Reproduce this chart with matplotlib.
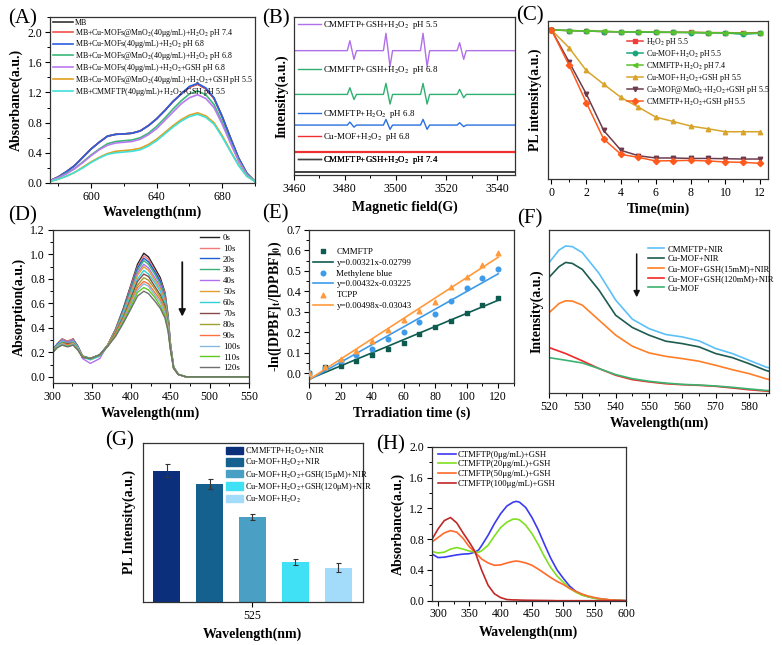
import numpy as np
import matplotlib
matplotlib.use("Agg")
import matplotlib.pyplot as plt
from matplotlib.lines import Line2D
from matplotlib.patches import Patch
from matplotlib.ticker import MultipleLocator

plt.rcParams['font.family'] = ['Liberation Serif', 'DejaVu Serif']
plt.rcParams['mathtext.fontset'] = 'stix'
plt.rcParams['axes.linewidth'] = 0.9

# ---------------- data ----------------
# (A)
a_wl = [575, 580, 585, 590, 595, 600, 605, 610, 615, 620, 625, 630, 635, 640, 645,
        650, 655, 660, 665, 670, 675, 680, 685, 690, 695, 700]
a_labels = ["MB",
            "MB+Cu-MOFs@MnO$_2$(40μg/mL)+H$_2$O$_2$ pH 7.4",
            "MB+Cu-MOFs(40μg/mL)+H$_2$O$_2$ pH 6.8",
            "MB+Cu-MOFs@MnO$_2$(40μg/mL)+H$_2$O$_2$ pH 6.8",
            "MB+Cu-MOFs(40μg/mL)+H$_2$O$_2$+GSH pH 6.8",
            "MB+Cu-MOFs@MnO$_2$(40μg/mL)+H$_2$O$_2$+GSH pH 5.5",
            "MB+CMMFTP(40μg/mL)+H$_2$O$_2$+GSH pH 5.5"]
a_mb = [0.03, 0.08, 0.15, 0.23, 0.34, 0.45, 0.54, 0.62, 0.645, 0.65, 0.66, 0.69, 0.76, 0.85, 0.96,
        1.08, 1.18, 1.27, 1.31, 1.25, 1.12, 0.88, 0.60, 0.33, 0.13, 0.02]
a_mno2_74 = [0.03, 0.08, 0.15, 0.23, 0.34, 0.45, 0.54, 0.62, 0.645, 0.65, 0.66, 0.69, 0.76, 0.85, 0.96,
             1.08, 1.18, 1.27, 1.31, 1.25, 1.12, 0.88, 0.60, 0.33, 0.13, 0.02]
a_mof_68 = [0.03, 0.08, 0.15, 0.23, 0.34, 0.45, 0.54, 0.62, 0.645, 0.65, 0.66, 0.69, 0.76, 0.85, 0.96,
            1.08, 1.18, 1.28, 1.32, 1.26, 1.13, 0.88, 0.60, 0.33, 0.13, 0.02]
a_mno2_68 = [0.03, 0.07, 0.13, 0.19, 0.28, 0.37, 0.45, 0.52, 0.55, 0.56, 0.57, 0.60, 0.66, 0.75, 0.86,
             0.98, 1.09, 1.18, 1.22, 1.17, 1.04, 0.81, 0.55, 0.30, 0.12, 0.02]
a_mof_gsh = [0.03, 0.07, 0.12, 0.19, 0.27, 0.36, 0.44, 0.50, 0.53, 0.54, 0.55, 0.58, 0.64, 0.72, 0.83,
             0.94, 1.05, 1.13, 1.17, 1.12, 1.00, 0.78, 0.53, 0.29, 0.11, 0.02]
a_mno2_gsh = [0.02, 0.05, 0.09, 0.14, 0.21, 0.28, 0.34, 0.39, 0.42, 0.43, 0.44, 0.46, 0.51, 0.58, 0.67,
              0.76, 0.84, 0.90, 0.93, 0.89, 0.80, 0.63, 0.43, 0.24, 0.09, 0.02]
a_cmmftp = [0.02, 0.05, 0.09, 0.14, 0.20, 0.27, 0.33, 0.38, 0.40, 0.41, 0.42, 0.44, 0.49, 0.56, 0.65,
            0.74, 0.82, 0.88, 0.91, 0.87, 0.78, 0.61, 0.42, 0.23, 0.09, 0.02]
a_series = [a_mb, a_mno2_74, a_mof_68, a_mno2_68, a_mof_gsh, a_mno2_gsh, a_cmmftp]
a_colors = ['#333333', '#f0504a', '#2a5fe0', '#3cb878', '#b87af0', '#e0a020', '#40e0d8']

# (B) EPR
b_field = [3460, 3481.0, 3482.0, 3483.6, 3484.6, 3495.2, 3496.2, 3497.8, 3498.8,
           3509.8, 3510.8, 3512.4, 3513.4, 3524.2, 3525.2, 3526.8, 3527.8, 3547]
b_labels = ["CMMFTP+GSH+H$_2$O$_2$  pH 5.5", "CMMFTP+GSH+H$_2$O$_2$  pH 6.8",
            "CMMFTP+H$_2$O$_2$  pH 6.8", "Cu-MOF+H$_2$O$_2$  pH 6.8",
            "CMMFTP+GSH+H$_2$O$_2$  pH 7.4"]
b_base = [78.7, 51.0, 31.6, 14.8, 2.1]
b_amp_55 = [0, 0, 6.3, -5.5, 0, 0, 11, -10, 0, 0, 11, -10, 0, 0, 5, -5.5, 0, 0]
b_amp_68g = [0, 0, 4.2, -3.2, 0, 0, 7, -6.1, 0, 0, 7, -6.1, 0, 0, 3.2, -2.1, 0, 0]
b_amp_68 = [0, 0, 1.9, -1.3, 0, 0, 3.6, -2.7, 0, 0, 3.6, -2.7, 0, 0, 1.5, -1.0, 0, 0]
b_amp_mof = [0] * 18
b_amp_74 = [0] * 18
b_amps = [b_amp_55, b_amp_68g, b_amp_68, b_amp_mof, b_amp_74]
b_colors = ['#b070e8', '#2fb070', '#2a6fe0', '#f03030', '#404040']

# (C)
c_time = list(range(13))
c_labels = ["H$_2$O$_2$ pH 5.5", "Cu-MOF+H$_2$O$_2$ pH 5.5", "CMMFTP+H$_2$O$_2$ pH 7.4",
            "Cu-MOF+H$_2$O$_2$+GSH pH 5.5", "Cu-MOF@MnO$_2$+H$_2$O$_2$+GSH pH 5.5",
            "CMMFTP+H$_2$O$_2$+GSH pH 5.5"]
c_h2o2 = [100, 99.6, 99.3, 98.9, 98.7, 98.7, 98.4, 98.4, 98.4, 98.2, 98.2, 98.0, 98.2]
c_mof = [100, 99.6, 99.3, 98.9, 98.7, 98.7, 98.4, 98.4, 98.2, 98.0, 98.0, 97.1, 97.8]
c_cmm74 = [100, 99.6, 99.3, 99.1, 98.7, 98.7, 98.7, 98.4, 98.4, 98.2, 98.0, 98.0, 97.8]
c_mof_gsh = [100, 88.2, 72.8, 63.6, 54.7, 48.2, 41.5, 38.6, 35.5, 33.7, 31.7, 31.7, 31.7]
c_mno2_gsh = [100, 78.8, 57.1, 32.6, 19.2, 15.6, 14.1, 14.1, 13.8, 13.8, 13.6, 13.4, 13.4]
c_cmm_gsh = [100, 76.6, 51.3, 26.8, 16.5, 14.5, 12.1, 12.3, 12.5, 12.1, 11.4, 11.2, 10.5]
c_series = [c_h2o2, c_mof, c_cmm74, c_mof_gsh, c_mno2_gsh, c_cmm_gsh]
c_colors = ['#f03c3c', '#1aa57a', '#5cc22a', '#d8a42c', '#6e3b4e', '#ff5a1e']
c_markers = ['s', 'o', '<', '^', 'v', 'D']

# (D)
d_wl = [300, 306, 312, 319, 326, 332, 338, 348, 360, 370, 380, 390, 400, 408, 416, 422,
        430, 437, 443, 447, 450, 454, 460, 470, 500, 550]
d_labels = ["0s", "10s", "20s", "30s", "40s", "50s", "60s", "70s", "80s", "90s", "100s", "110s", "120s"]
d_0 = [0.22, 0.27, 0.31, 0.29, 0.31, 0.25, 0.17, 0.15, 0.18, 0.26, 0.39, 0.56, 0.76, 0.92, 1.01, 0.98, 0.89, 0.81, 0.69, 0.50, 0.27, 0.08, 0.02, 0, 0, 0]
d_10 = [0.22, 0.27, 0.31, 0.29, 0.31, 0.25, 0.17, 0.15, 0.18, 0.26, 0.39, 0.55, 0.75, 0.90, 0.99, 0.96, 0.87, 0.79, 0.68, 0.49, 0.27, 0.08, 0.02, 0, 0, 0]
d_20 = [0.22, 0.27, 0.30, 0.28, 0.30, 0.25, 0.17, 0.15, 0.18, 0.26, 0.38, 0.55, 0.73, 0.89, 0.97, 0.94, 0.86, 0.78, 0.66, 0.48, 0.26, 0.08, 0.02, 0, 0, 0]
d_30 = [0.22, 0.26, 0.30, 0.28, 0.30, 0.24, 0.17, 0.15, 0.18, 0.26, 0.38, 0.54, 0.72, 0.87, 0.95, 0.92, 0.84, 0.76, 0.65, 0.48, 0.26, 0.08, 0.02, 0, 0, 0]
d_40 = [0.21, 0.26, 0.30, 0.28, 0.30, 0.24, 0.15, 0.11, 0.15, 0.26, 0.37, 0.53, 0.70, 0.85, 0.92, 0.89, 0.81, 0.74, 0.63, 0.46, 0.26, 0.08, 0.02, 0, 0, 0]
d_50 = [0.21, 0.26, 0.29, 0.27, 0.29, 0.24, 0.17, 0.14, 0.17, 0.26, 0.37, 0.52, 0.69, 0.83, 0.90, 0.87, 0.79, 0.72, 0.62, 0.45, 0.25, 0.08, 0.02, 0, 0, 0]
d_60 = [0.21, 0.26, 0.29, 0.27, 0.29, 0.24, 0.16, 0.14, 0.17, 0.25, 0.36, 0.51, 0.67, 0.80, 0.87, 0.84, 0.77, 0.70, 0.60, 0.44, 0.25, 0.08, 0.02, 0, 0, 0]
d_70 = [0.21, 0.25, 0.28, 0.27, 0.28, 0.23, 0.16, 0.15, 0.18, 0.25, 0.36, 0.49, 0.65, 0.78, 0.84, 0.82, 0.74, 0.67, 0.58, 0.43, 0.24, 0.07, 0.02, 0, 0, 0]
d_80 = [0.21, 0.25, 0.28, 0.26, 0.28, 0.23, 0.16, 0.15, 0.18, 0.25, 0.35, 0.48, 0.63, 0.75, 0.81, 0.79, 0.72, 0.65, 0.56, 0.42, 0.24, 0.07, 0.02, 0, 0, 0]
d_90 = [0.20, 0.25, 0.27, 0.26, 0.27, 0.23, 0.16, 0.15, 0.18, 0.25, 0.35, 0.47, 0.61, 0.73, 0.78, 0.76, 0.69, 0.63, 0.53, 0.40, 0.23, 0.07, 0.02, 0, 0, 0]
d_100 = [0.20, 0.25, 0.27, 0.25, 0.27, 0.23, 0.16, 0.15, 0.18, 0.25, 0.34, 0.46, 0.60, 0.71, 0.76, 0.74, 0.67, 0.61, 0.52, 0.40, 0.23, 0.07, 0.02, 0, 0, 0]
d_110 = [0.20, 0.24, 0.26, 0.25, 0.26, 0.22, 0.16, 0.15, 0.18, 0.25, 0.34, 0.45, 0.58, 0.69, 0.73, 0.71, 0.65, 0.58, 0.50, 0.38, 0.22, 0.07, 0.02, 0, 0, 0]
d_120 = [0.20, 0.24, 0.26, 0.245, 0.26, 0.22, 0.16, 0.15, 0.18, 0.25, 0.33, 0.44, 0.56, 0.66, 0.70, 0.68, 0.62, 0.56, 0.48, 0.37, 0.22, 0.07, 0.02, 0, 0, 0]
d_series = [d_0, d_10, d_20, d_30, d_40, d_50, d_60, d_70, d_80, d_90, d_100, d_110, d_120]
d_colors = ['#222222', '#f47a7a', '#1f5fd0', '#3cb07a', '#b070f0', '#e0a030', '#30d0d8',
            '#8b4a4a', '#a0a030', '#ff7040', '#88b8e0', '#60c820', '#707070']

# (E)
e_time = [0, 10, 20, 30, 40, 50, 60, 70, 80, 90, 100, 110, 120]
e_cmmftp = [0.0, 0.03, 0.037, 0.062, 0.088, 0.117, 0.15, 0.19, 0.225, 0.257, 0.293, 0.334, 0.37]
e_mb = [0.0, 0.025, 0.06, 0.09, 0.12, 0.17, 0.20, 0.25, 0.29, 0.355, 0.415, 0.465, 0.51]
e_tcpp = [0.0, 0.03, 0.07, 0.11, 0.16, 0.21, 0.26, 0.305, 0.35, 0.42, 0.47, 0.53, 0.59]
e_names = ["CMMFTP", "Methylene blue", "TCPP"]
e_slopes = [0.00321, 0.00432, 0.00498]
e_inters = [-0.02799, -0.03225, -0.03043]
e_colors = ['#0e5c50', '#3d9be9', '#ff9a3c']
e_markers = ['s', 'o', '^']

# (F)
f_wl_hi = [520, 523, 525, 527, 530, 535, 540, 545, 550, 555, 560, 565, 570, 575, 580, 585, 586]
f_cmm_nir = [79.9, 87.7, 90.2, 89.8, 86.1, 73.4, 57.0, 45.3, 39.5, 35.9, 34.4, 32.0, 27.3, 24.2, 20.1, 16.0, 15.4]
f_mof_nir = [70.9, 77.5, 80.1, 79.5, 75.8, 63.1, 47.7, 40.2, 35.5, 31.8, 30.3, 28.3, 24.2, 21.7, 18.0, 13.9, 13.3]
f_gsh15 = [49.2, 54.9, 56.6, 56.4, 53.9, 44.7, 35.5, 28.7, 24.6, 22.5, 21.1, 19.5, 17.0, 14.3, 11.9, 8.8, 8.3]
f_wl_lo = [520, 525, 530, 535, 540, 545, 550, 555, 560, 565, 570, 575, 580, 585, 586]
f_gsh120 = [27.9, 24.2, 19.7, 15.0, 10.9, 8.2, 6.8, 5.7, 5.1, 4.7, 4.1, 3.1, 2.0, 1.2, 1.0]
f_mof = [21.7, 20.1, 18.4, 15.0, 11.3, 8.8, 7.2, 6.1, 5.3, 4.9, 4.3, 3.5, 2.5, 1.6, 1.5]
f_labels = ["CMMFTP+NIR", "Cu-MOF+NIR", "Cu-MOF+GSH(15mM)+NIR", "Cu-MOF+GSH(120mM)+NIR", "Cu-MOF"]
f_colors = ['#5cc0f8', '#1d5c4f', '#ff7f27', '#f02828', '#3cb371']

# (G)
g_labels = ["CMMFTP+H$_2$O$_2$+NIR", "Cu-MOF+H$_2$O$_2$+NIR", "Cu-MOF+H$_2$O$_2$+GSH(15μM)+NIR",
            "Cu-MOF+H$_2$O$_2$+GSH(120μM)+NIR", "Cu-MOF+H$_2$O$_2$"]
g_values = [8.26, 7.42, 5.35, 2.52, 2.16]
g_errors = [0.39, 0.31, 0.20, 0.20, 0.27]
g_colors = ['#0b2f7a', '#14608f', '#4aa0c4', '#40e0f5', '#a3dcfa']
g_tick = "525"

# (H)
h_labels = ["CTMFTP(0μg/mL)+GSH", "CTMFTP(20μg/mL)+GSH", "CTMFTP(50μg/mL)+GSH", "CTMFTP(100μg/mL)+GSH"]
h_wl = [290, 300, 310, 320, 330, 340, 350, 359, 365, 370, 380, 390, 400, 410, 420, 425, 430, 440,
        450, 460, 470, 480, 490, 500, 510, 520, 530, 540, 550, 560, 575, 600]
h_0 = [0.61, 0.56, 0.565, 0.58, 0.595, 0.605, 0.61, 0.63, 0.66, 0.72, 0.85, 1.00, 1.13, 1.23, 1.28, 1.29, 1.28, 1.21,
       1.08, 0.92, 0.73, 0.55, 0.40, 0.29, 0.19, 0.12, 0.08, 0.05, 0.035, 0.02, 0.01, 0.0]
h_20 = [0.64, 0.62, 0.63, 0.67, 0.69, 0.67, 0.645, 0.63, 0.63, 0.65, 0.72, 0.84, 0.95, 1.02, 1.06, 1.06, 1.05, 0.98,
        0.87, 0.73, 0.57, 0.43, 0.32, 0.24, 0.16, 0.11, 0.07, 0.05, 0.03, 0.02, 0.01, 0.0]
h_50 = [0.76, 0.82, 0.88, 0.91, 0.89, 0.81, 0.70, 0.63, 0.58, 0.54, 0.49, 0.46, 0.465, 0.49, 0.51, 0.515, 0.51, 0.49,
        0.46, 0.41, 0.355, 0.30, 0.25, 0.21, 0.16, 0.12, 0.085, 0.06, 0.04, 0.025, 0.01, 0.0]
h_100 = [0.79, 0.93, 1.04, 1.08, 1.01, 0.88, 0.76, 0.64, 0.50, 0.39, 0.20, 0.09, 0.04, 0.015, 0.01, 0.01, 0.008, 0.006,
         0.005, 0.004, 0.003, 0.002, 0.0, 0.0, 0.0, 0.0, 0.0, 0.0, 0.0, 0.0, 0.0, 0.0]
h_series = [h_0, h_20, h_50, h_100]
h_colors = ['#3a3af0', '#7ee020', '#ff6a2a', '#c02828']

# ---------------- figure ----------------
W, H = 782, 645
fig = plt.figure(figsize=(W / 100, H / 100), dpi=100)


def mk(l, t, r, b):
    return fig.add_axes([l / W, 1 - b / H, (r - l) / W, (b - t) / H])


LBL = dict(fontsize=10, fontweight='bold')
TICKFS = 8.5
LEGFS = 6.0


def style(ax, yticks=True):
    ax.tick_params(which='major', direction='out', length=3.5, width=0.8, labelsize=TICKFS,
                   top=False, right=False, pad=2)
    ax.tick_params(which='minor', direction='out', length=2, width=0.7, top=False, right=False)
    if not yticks:
        ax.set_yticks([])
        ax.yaxis.set_minor_locator(plt.NullLocator())
    for s in ax.spines.values():
        s.set_color('#333333')


def panel(x, y, s):
    fig.text(x / W, 1 - y / H, s, fontsize=15, ha='left', va='center')


# (A)
ax = mk(50, 17, 255, 183)
for ys, c, lab in zip(a_series, a_colors, a_labels):
    ax.plot(a_wl, ys, color=c, lw=1.2, label=lab)
ax.set_xlim(575, 700)
ax.set_ylim(0, 2.2)
ax.xaxis.set_major_locator(MultipleLocator(40))
ax.xaxis.set_minor_locator(MultipleLocator(20))
ax.yaxis.set_major_locator(MultipleLocator(0.4))
ax.yaxis.set_minor_locator(MultipleLocator(0.2))
ax.yaxis.set_major_formatter(matplotlib.ticker.FormatStrFormatter('%.1f'))
style(ax)
ax.set_xlabel("Wavelength(nm)", labelpad=2, **LBL)
ax.set_ylabel("Absorbance(a.u.)", labelpad=3, **LBL)
ax.legend(loc='upper left', bbox_to_anchor=(0.015, 0.99), frameon=False, fontsize=5.7,
          handlelength=2.5, handletextpad=0.3, labelspacing=-0.02, borderpad=0, borderaxespad=0)
panel(8, 19, "(A)")

# (B)
ax = mk(294, 17, 515, 175)
for base, amp, c, lw in zip(b_base, b_amps, b_colors, [1.0, 1.0, 1.0, 1.6, 1.4]):
    ys = [base + a for a in amp]
    ax.plot(b_field, ys, color=c, lw=lw)
ax.set_xlim(3460, 3547)
ax.set_ylim(0, 100)
ax.xaxis.set_major_locator(MultipleLocator(20))
ax.xaxis.set_minor_locator(MultipleLocator(10))
style(ax, yticks=False)
ax.set_xlabel("Magnetic field(G)", labelpad=4, **LBL)
ax.set_ylabel("Intensity(a.u.)", labelpad=4, **LBL)
b_ly = [0.949, 0.665, 0.384, 0.242, 0.095]
for c, lab, yy in zip(b_colors, b_labels, b_ly):
    lg = ax.legend(handles=[Line2D([], [], color=c, lw=1.0)], labels=[lab], loc='center left',
                   bbox_to_anchor=(0.02, yy), frameon=False, fontsize=6.4, handlelength=2.5,
                   handletextpad=0.3, borderpad=0, borderaxespad=0)
    ax.add_artist(lg)
panel(262, 19, "(B)")

# (C)
ax = mk(548, 21, 768, 179)
for ys, c, m, lab in zip(c_series, c_colors, c_markers, c_labels):
    ax.plot(c_time, ys, color=c, marker=m, ms=3.2, lw=1.1, label=lab)
ax.set_xlim(-0.2, 12.45)
ax.set_ylim(0, 106)
ax.xaxis.set_major_locator(MultipleLocator(2))
ax.xaxis.set_minor_locator(MultipleLocator(1))
style(ax, yticks=False)
ax.set_xlabel("Time(min)", labelpad=3, **LBL)
ax.set_ylabel("PL intensity(a.u.)", labelpad=4, **LBL)
ax.legend(loc='upper left', bbox_to_anchor=(0.358, 0.905), frameon=False, fontsize=5.7,
          handlelength=2.1, handletextpad=0.3, labelspacing=0.0, borderpad=0, borderaxespad=0)
panel(516, 16, "(C)")

# (D)
ax = mk(52.7, 230, 249, 383)
for ys, c, lab in zip(d_series, d_colors, d_labels):
    ax.plot(d_wl, ys, color=c, lw=1.0, label=lab)
ax.set_xlim(300, 550)
ax.set_ylim(-0.05, 1.2)
ax.xaxis.set_major_locator(MultipleLocator(50))
ax.xaxis.set_minor_locator(MultipleLocator(25))
ax.yaxis.set_major_locator(MultipleLocator(0.2))
ax.yaxis.set_minor_locator(MultipleLocator(0.1))
ax.yaxis.set_major_formatter(matplotlib.ticker.FormatStrFormatter('%.1f'))
style(ax)
ax.annotate('', xy=(465, 0.47), xytext=(465, 0.96),
            arrowprops=dict(arrowstyle='-|>', color='#111111', lw=1.3, mutation_scale=10))
ax.set_xlabel("Wavelength(nm)", labelpad=3, **LBL)
ax.set_ylabel("Absorption(a.u.)", labelpad=3, **LBL)
ax.legend(loc='upper left', bbox_to_anchor=(0.75, 0.977), frameon=False, fontsize=6.4,
          handlelength=2.2, handletextpad=0.4, labelspacing=0.3, borderpad=0, borderaxespad=0)
panel(8, 216, "(D)")

# (E)
ax = mk(309, 230, 514, 383)
handles = []
labels = []
for ys, name, k, b0, c, m in zip([e_cmmftp, e_mb, e_tcpp], e_names, e_slopes, e_inters, e_colors, e_markers):
    sc = ax.scatter(e_time, ys, color=c, marker=m, s=11, zorder=3)
    xf = np.array([e_time[0], e_time[-1]])
    ln, = ax.plot(xf, k * xf + b0, color=c, lw=1.2)
    handles += [sc, ln]
    labels += [name, "y=%gx%g" % (k, b0)]
ax.set_xlim(0, 130)
ax.set_ylim(-0.047, 0.7)
ax.xaxis.set_major_locator(MultipleLocator(20))
ax.xaxis.set_minor_locator(MultipleLocator(10))
ax.yaxis.set_major_locator(MultipleLocator(0.1))
ax.yaxis.set_minor_locator(MultipleLocator(0.05))
ax.yaxis.set_major_formatter(matplotlib.ticker.FormatStrFormatter('%.1f'))
style(ax)
ax.set_xlabel("Trradiation time (s)", labelpad=3, **LBL)
ax.set_ylabel(r"-ln([DPBF]$_\mathbf{t}$/[DPBF]$_\mathbf{0}$)", labelpad=2, **LBL)
ax.legend(handles, labels, loc='upper left', bbox_to_anchor=(0.021, 0.885), frameon=False,
          fontsize=6.4, handlelength=2.2, handletextpad=0.4, labelspacing=0.3, borderpad=0,
          borderaxespad=0, scatterpoints=1)
panel(262, 214, "(E)")

# (F)
ax = mk(549, 230, 769, 393)
ax.plot(f_wl_hi, f_cmm_nir, color=f_colors[0], lw=1.2, label=f_labels[0])
ax.plot(f_wl_hi, f_mof_nir, color=f_colors[1], lw=1.2, label=f_labels[1])
ax.plot(f_wl_hi, f_gsh15, color=f_colors[2], lw=1.2, label=f_labels[2])
ax.plot(f_wl_lo, f_gsh120, color=f_colors[3], lw=1.2, label=f_labels[3])
ax.plot(f_wl_lo, f_mof, color=f_colors[4], lw=1.2, label=f_labels[4])
ax.set_xlim(520, 586)
ax.set_ylim(0, 100)
ax.xaxis.set_major_locator(MultipleLocator(10))
ax.xaxis.set_minor_locator(MultipleLocator(5))
style(ax, yticks=False)
ax.annotate('', xy=(546.3, 57), xytext=(546.3, 87),
            arrowprops=dict(arrowstyle='-|>', color='#111111', lw=1.1, mutation_scale=9))
ax.set_xlabel("Wavelength(nm)", labelpad=3, **LBL)
ax.set_ylabel("Intensity(a.u.)", labelpad=4, **LBL)
ax.legend(loc='upper left', bbox_to_anchor=(0.451, 0.905), frameon=False, fontsize=6.2,
          handlelength=1.8, handletextpad=0.4, labelspacing=0.2, borderpad=0, borderaxespad=0)
panel(517, 219, "(F)")

# (G)
ax = mk(142.7, 443, 362.7, 602)
pos = np.arange(len(g_values))
ax.bar(pos, g_values, width=0.62, color=g_colors, yerr=g_errors,
       error_kw=dict(ecolor='#333333', elinewidth=0.8, capsize=1.8, capthick=0.8))
ax.set_xlim(-0.56, 4.57)
ax.set_ylim(0, 10)
ax.set_xticks([pos[len(pos) // 2]])
ax.set_xticklabels([g_tick])
style(ax, yticks=False)
ax.xaxis.set_minor_locator(plt.NullLocator())
ax.set_xlabel("Wavelength(nm)", labelpad=4, **LBL)
ax.set_ylabel("PL Intensity(a.u.)", labelpad=5, **LBL)
ax.legend(handles=[Patch(color=c) for c in g_colors], labels=g_labels, loc='upper left',
          bbox_to_anchor=(0.379, 0.985), frameon=False, fontsize=6.0, handlelength=2.0,
          handleheight=1.0, handletextpad=0.25, labelspacing=0.05, borderpad=0, borderaxespad=0)
panel(105, 441, "(G)")

# (H)
ax = mk(431.7, 446.7, 626, 600.7)
for ys, c, lab in zip(h_series, h_colors, h_labels):
    ax.plot(h_wl, ys, color=c, lw=1.2, label=lab)
ax.set_xlim(290, 600)
ax.set_ylim(0, 2.0)
ax.xaxis.set_major_locator(MultipleLocator(50))
ax.xaxis.set_minor_locator(MultipleLocator(25))
ax.yaxis.set_major_locator(MultipleLocator(0.4))
ax.yaxis.set_minor_locator(MultipleLocator(0.2))
ax.yaxis.set_major_formatter(matplotlib.ticker.FormatStrFormatter('%.1f'))
style(ax)
ax.set_xlabel("Wavelength(nm)", labelpad=4, **LBL)
ax.set_ylabel("Absorbance(a.u.)", labelpad=3, **LBL)
ax.legend(loc='upper left', bbox_to_anchor=(0.034, 0.975), frameon=False, fontsize=6.2,
          handlelength=2.0, handletextpad=0.2, labelspacing=0.2, borderpad=0, borderaxespad=0)
panel(376, 445, "(H)")

fig.savefig("out.png", dpi=100)
